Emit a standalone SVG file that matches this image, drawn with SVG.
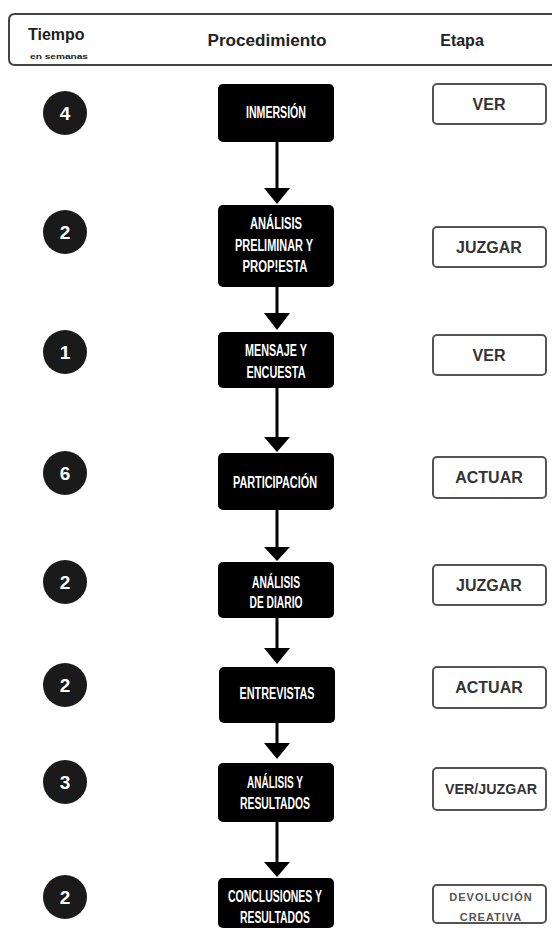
<svg xmlns="http://www.w3.org/2000/svg" width="552" height="931" viewBox="0 0 552 931">
<style>
.hdr{font-family:"Liberation Sans",Arial,sans-serif;font-weight:bold;fill:#222}
.num circle{fill:#1a1a1a}
.num text{font-family:"Liberation Sans",Arial,sans-serif;font-weight:bold;font-size:19px;fill:#fff;text-anchor:middle}
.proc rect{fill:#000}
.proc text{font-family:"Liberation Sans",Arial,sans-serif;font-weight:bold;font-size:16px;fill:#fff;text-anchor:middle}
.stage rect{fill:#fff;stroke:#555;stroke-width:2}
.stage text{font-family:"Liberation Sans",Arial,sans-serif;font-weight:bold;font-size:16px;fill:#333;text-anchor:middle}
.stage text.small{font-size:11px;fill:#555;letter-spacing:1px}
.stage text.mid{font-size:14px}
.conn line{stroke:#000;stroke-width:3}
.conn polygon{fill:#000}
</style>
<rect width="552" height="931" fill="#fff"/>
<g id="header">
<path d="M560 14 H15 Q9 14 9 20 V59 Q9 65 15 65 H560" fill="none" stroke="#444" stroke-width="2"/>
<text class="hdr" x="28" y="40" font-size="16">Tiempo</text>
<text class="hdr" x="30" y="59" font-size="8" textLength="58" lengthAdjust="spacingAndGlyphs">en semanas</text>
<text class="hdr" x="267" y="46" font-size="16" text-anchor="middle" textLength="119" lengthAdjust="spacingAndGlyphs">Procedimiento</text>
<text class="hdr" x="462" y="46" font-size="16" text-anchor="middle">Etapa</text>
</g>
<g id="connectors" class="conn">
<line x1="277" y1="142" x2="277" y2="190"/><polygon points="264,188 290,188 277,204"/>
<line x1="277" y1="287" x2="277" y2="315"/><polygon points="264,313 290,313 277,330"/>
<line x1="277" y1="388" x2="277" y2="439"/><polygon points="264,437 290,437 277,452"/>
<line x1="277" y1="510" x2="277" y2="549"/><polygon points="264,547 290,547 277,561"/>
<line x1="277" y1="618" x2="277" y2="650"/><polygon points="264,648 290,648 277,664"/>
<line x1="277" y1="723" x2="277" y2="745"/><polygon points="264,743 290,743 277,759"/>
<line x1="277" y1="822" x2="277" y2="864"/><polygon points="264,862 290,862 277,877"/>
</g>
<g id="t1" class="num"><circle cx="65" cy="113" r="22"/><text x="65" y="120">4</text></g>
<g id="t2" class="num"><circle cx="65" cy="232" r="22"/><text x="65" y="239">2</text></g>
<g id="t3" class="num"><circle cx="65" cy="352" r="22"/><text x="65" y="359">1</text></g>
<g id="t4" class="num"><circle cx="65" cy="473" r="22"/><text x="65" y="480">6</text></g>
<g id="t5" class="num"><circle cx="65" cy="582" r="22"/><text x="65" y="589">2</text></g>
<g id="t6" class="num"><circle cx="65" cy="685" r="22"/><text x="65" y="692">2</text></g>
<g id="t7" class="num"><circle cx="65" cy="782" r="22"/><text x="65" y="789">3</text></g>
<g id="t8" class="num"><circle cx="65" cy="897" r="22"/><text x="65" y="904">2</text></g>
<g id="p1" class="proc"><rect x="218" y="84" width="116" height="58" rx="5"/><text x="276" y="118" textLength="60" lengthAdjust="spacingAndGlyphs">INMERSIÓN</text></g>
<g id="p2" class="proc"><rect x="218" y="205" width="116" height="82" rx="5"/><text x="276" y="229" textLength="52" lengthAdjust="spacingAndGlyphs">ANÁLISIS</text><text x="274" y="251" textLength="78" lengthAdjust="spacingAndGlyphs">PRELIMINAR Y</text><text x="275" y="272" textLength="65" lengthAdjust="spacingAndGlyphs">PROP!ESTA</text></g>
<g id="p3" class="proc"><rect x="218" y="332" width="116" height="56" rx="5"/><text x="276" y="356" textLength="62" lengthAdjust="spacingAndGlyphs">MENSAJE Y</text><text x="276" y="378" textLength="59" lengthAdjust="spacingAndGlyphs">ENCUESTA</text></g>
<g id="p4" class="proc"><rect x="218" y="453" width="116" height="57" rx="5"/><text x="275" y="488" textLength="84" lengthAdjust="spacingAndGlyphs">PARTICIPACIÓN</text></g>
<g id="p5" class="proc"><rect x="218" y="562" width="116" height="56" rx="5"/><text x="276" y="588" textLength="48" lengthAdjust="spacingAndGlyphs">ANÁLISIS</text><text x="276" y="608" textLength="53" lengthAdjust="spacingAndGlyphs">DE DIARIO</text></g>
<g id="p6" class="proc"><rect x="219" y="667" width="116" height="56" rx="5"/><text x="277" y="699" textLength="75" lengthAdjust="spacingAndGlyphs">ENTREVISTAS</text></g>
<g id="p7" class="proc"><rect x="218" y="763" width="116" height="59" rx="5"/><text x="275" y="788" textLength="56" lengthAdjust="spacingAndGlyphs">ANÁLISIS Y</text><text x="275" y="809" textLength="70" lengthAdjust="spacingAndGlyphs">RESULTADOS</text></g>
<g id="p8" class="proc"><rect x="218" y="878" width="116" height="50" rx="5"/><text x="275" y="902" textLength="94" lengthAdjust="spacingAndGlyphs">CONCLUSIONES Y</text><text x="275" y="923" textLength="70" lengthAdjust="spacingAndGlyphs">RESULTADOS</text></g>
<g id="e1" class="stage"><rect x="433" y="84" width="113" height="40" rx="4"/><text x="489" y="110">VER</text></g>
<g id="e2" class="stage"><rect x="433" y="227" width="113" height="40" rx="4"/><text x="489" y="253">JUZGAR</text></g>
<g id="e3" class="stage"><rect x="433" y="335" width="113" height="40" rx="4"/><text x="489" y="361">VER</text></g>
<g id="e4" class="stage"><rect x="433" y="457" width="113" height="41" rx="4"/><text x="489" y="483">ACTUAR</text></g>
<g id="e5" class="stage"><rect x="433" y="565" width="113" height="40" rx="4"/><text x="489" y="591">JUZGAR</text></g>
<g id="e6" class="stage"><rect x="433" y="667" width="113" height="41" rx="4"/><text x="489" y="693">ACTUAR</text></g>
<g id="e7" class="stage"><rect x="433" y="768" width="113" height="42" rx="4"/><text class="mid" x="491" y="794" textLength="92" lengthAdjust="spacingAndGlyphs">VER/JUZGAR</text></g>
<g id="e8" class="stage"><rect x="433" y="885" width="113" height="38" rx="4"/><text class="small" x="491" y="901">DEVOLUCIÓN</text><text class="small" x="491" y="921">CREATIVA</text></g>
</svg>
